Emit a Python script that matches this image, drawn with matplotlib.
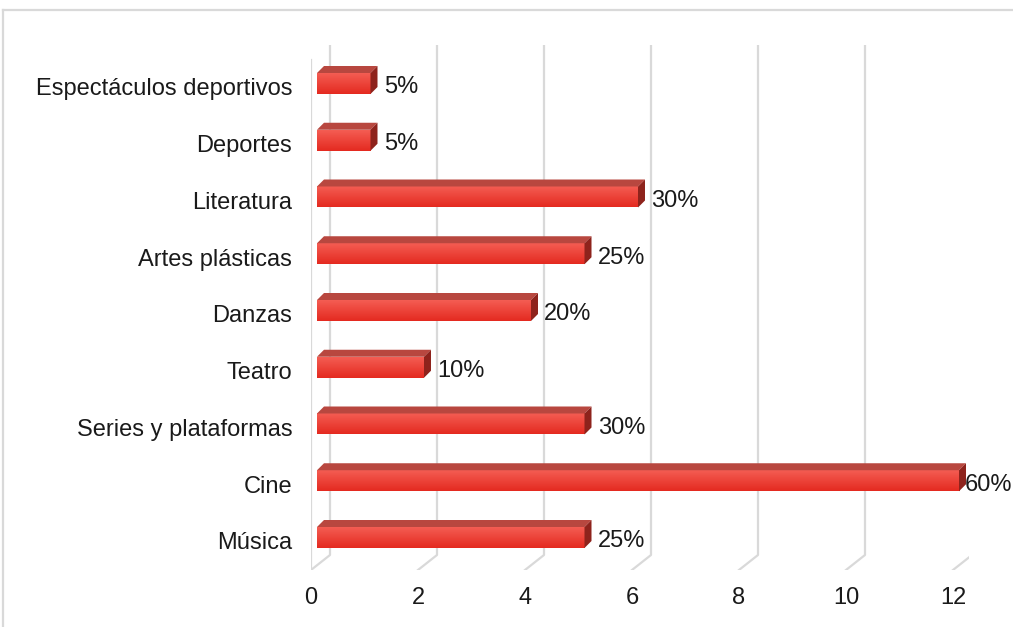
import matplotlib
matplotlib.use('Agg')
import matplotlib.pyplot as plt
from matplotlib.patches import Polygon
from matplotlib.lines import Line2D
import numpy as np

# data (bottom to top)
categories = ['Música', 'Cine', 'Series y plataformas', 'Teatro', 'Danzas',
              'Artes plásticas', 'Literatura', 'Deportes', 'Espectáculos deportivos']
values = [5, 12, 5, 2, 4, 5, 6, 1, 1]
labels = ['25%', '60%', '30%', '10%', '20%', '25%', '30%', '5%', '5%']
xticks = [0, 2, 4, 6, 8, 10, 12]

plt.rcParams['font.family'] = ['Liberation Sans', 'DejaVu Sans']
fs = 17
txt = '#1a1a1a'
grid = '#d9d9d9'

W, H = 1013, 627
fig = plt.figure(figsize=(W / 100, H / 100), dpi=100)

# pixel geometry of the excel-like 3d plot
px_unit = 53.5          # px per value unit
py_cat = 56.75          # px per category
x0_px, xmax = 311, 12.3
ybot_px, ytop_px = 570, 45
ycat0_px = 537.5
ax = fig.add_axes([x0_px / W, 1 - ybot_px / H, xmax * px_unit / W, (ybot_px - ytop_px) / H])
ax.set_xlim(0, xmax)
ax.set_ylim((ycat0_px - ybot_px) / py_cat, (ycat0_px - ytop_px) / py_cat)
ylo, yhi = ax.get_ylim()

# depth offsets in data units
bdx, bdy = 19 / px_unit, 15 / py_cat      # back wall
fdx = 6 / px_unit                         # bar front face start
tdx, tdy = 7 / px_unit, 7 / py_cat        # bar depth
bh = 21 / py_cat                          # bar face height

# walls / gridlines
for t in xticks:
    ax.add_line(Line2D([t + bdx, t + bdx, t], [yhi, ylo + bdy, ylo], color=grid, lw=1.6, zorder=1))
ax.add_line(Line2D([0, 0], [ylo, yhi - bdy], color=grid, lw=1.6, zorder=1))

grad = np.linspace(0, 1, 64).reshape(-1, 1)
cmap = matplotlib.colors.LinearSegmentedColormap.from_list('bar', ['#e42a20', '#f45d53'])
for i, (v, lab) in enumerate(zip(values, labels)):
    xa, xb = fdx, fdx + v
    ya, yb = i - bh / 2, i + bh / 2
    ax.imshow(grad, extent=[xa, xb, ya, yb], origin='lower', cmap=cmap, aspect='auto', zorder=3)
    ax.add_patch(Polygon([(xa, yb), (xa + tdx, yb + tdy), (xb + tdx, yb + tdy), (xb, yb)],
                         closed=True, facecolor='#b8473f', edgecolor='none', zorder=3))
    ax.add_patch(Polygon([(xb, ya), (xb, yb), (xb + tdx, yb + tdy), (xb + tdx, ya + tdy)],
                         closed=True, facecolor='#8e231c', edgecolor='none', zorder=3))
    ax.text(min(v + 0.36, 12.22), i - 0.07, lab, fontsize=fs, color=txt, va='center', ha='left', zorder=4)

ax.set_yticks([i - 0.06 for i in range(len(categories))])
ax.set_yticklabels(categories)
ax.set_xticks(xticks)
ax.tick_params(axis='y', length=0, pad=13.5, labelsize=fs, labelcolor=txt)
ax.tick_params(axis='x', length=0, pad=12.5, labelsize=fs, labelcolor=txt)
for s in ax.spines.values():
    s.set_visible(False)
ax.patch.set_alpha(0)

# outer chart frame
fig.add_artist(Line2D([3 / W, 1], [1 - 10 / H, 1 - 10 / H], color=grid, lw=1.6))
fig.add_artist(Line2D([3 / W, 3 / W], [0, 1 - 10 / H], color=grid, lw=1.6))

fig.savefig('out.png', dpi=100)
